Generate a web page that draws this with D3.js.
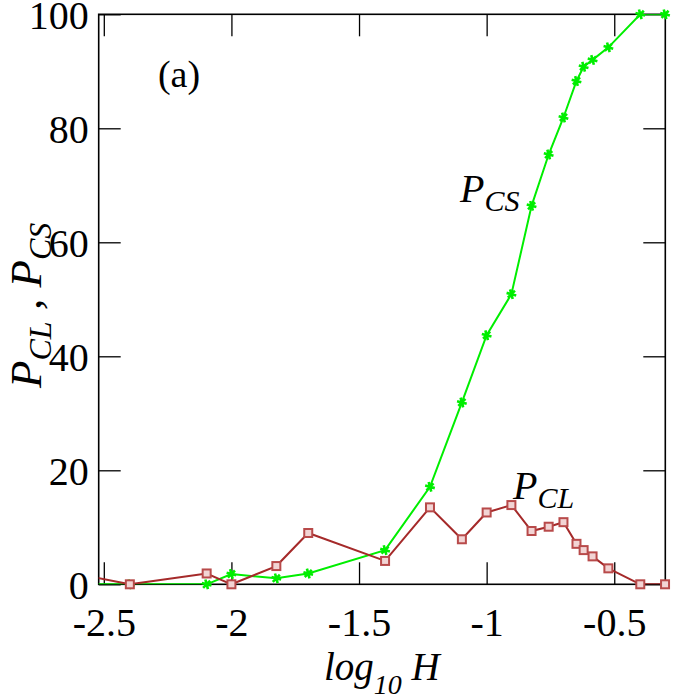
<!DOCTYPE html>
<html>
<head>
<meta charset="utf-8">
<script src="https://cdn.jsdelivr.net/npm/d3@7"></script>
<style>
  html, body { margin: 0; padding: 0; background: #fff; }
  svg { display: block; }
  svg text { font-family: "Liberation Serif", "Times New Roman", Times, "DejaVu Serif", "Noto Serif", serif; fill: #000; }
</style>
</head>
<body>
<svg id="chart" width="700" height="700"></svg>
<script>
// ---- data ----
const logH = [-2.6, -2.398, -2.097, -2.0, -1.824, -1.699, -1.398, -1.222, -1.097, -1.0,
              -0.903, -0.824, -0.757, -0.699, -0.648, -0.62, -0.585, -0.523, -0.398, -0.301];
const pCL  = [1.8, 0, 1.9, 0, 3.2, 9.0, 4.1, 13.5, 7.9, 12.6,
              13.9, 9.35, 10.1, 10.9, 7.1, 6.0, 4.9, 2.8, 0, 0];
const pCS  = [0, 0, 0, 1.8, 1.05, 1.9, 6.0, 17.1, 31.9, 43.7,
              50.9, 66.4, 75.4, 81.9, 88.3, 90.8, 92.0, 94.2, 100, 100];
const xTicks = [-2.5, -2, -1.5, -1, -0.5];
const xTickLabels = ["-2.5", "-2", "-1.5", "-1", "-0.5"];
const yTicks = [0, 20, 40, 60, 80, 100];
const yTickLabels = ["0", "20", "40", "60", "80", "100"];
const xDomain = [-2.52, -0.3];
const yDomain = [0, 100];

// ---- layout ----
const FONT = '"Liberation Serif", "Times New Roman", Times, "DejaVu Serif", "Noto Serif", serif';
const L = 98.7, R = 665.3, T = 14.3, B = 584.3;
const svg = d3.select("#chart");
const x = d3.scaleLinear().domain(xDomain).range([L, R]);
const y = d3.scaleLinear().domain(yDomain).range([B, T]);
const TICK = 22;

svg.append("defs").append("clipPath").attr("id", "plotclip")
  .append("rect").attr("x", L).attr("y", T).attr("width", R - L).attr("height", B - T);

// axes
const fmtX = (d, i) => xTickLabels[i];
const fmtY = (d, i) => yTickLabels[i];

const gx = svg.append("g").attr("transform", `translate(0,${B})`)
  .call(d3.axisBottom(x).tickValues(xTicks).tickFormat(fmtX).tickSizeInner(-TICK).tickSizeOuter(0).tickPadding(24));
const gxt = svg.append("g").attr("transform", `translate(0,${T})`)
  .call(d3.axisTop(x).tickValues(xTicks).tickFormat("").tickSizeInner(-TICK).tickSizeOuter(0));
const gy = svg.append("g").attr("transform", `translate(${L},0)`)
  .call(d3.axisLeft(y).tickValues(yTicks).tickFormat(fmtY).tickSizeInner(-TICK).tickSizeOuter(0).tickPadding(10));
const gyr = svg.append("g").attr("transform", `translate(${R},0)`)
  .call(d3.axisRight(y).tickValues(yTicks).tickFormat("").tickSizeInner(-TICK).tickSizeOuter(0));

[gx, gxt, gy, gyr].forEach(g => {
  g.attr("font-family", null).attr("font-size", null);
  g.select(".domain").remove();
  g.selectAll(".tick line").attr("stroke", "#000").attr("stroke-width", 1.3);
  g.selectAll("text").style("font-family", FONT).style("font-size", "40px").attr("fill", "#000");
});
gy.selectAll("text").attr("dy", "0.36em");
gx.selectAll("text").attr("dy", "0.7em");

// frame
svg.append("rect").attr("x", L).attr("y", T).attr("width", R - L).attr("height", B - T)
  .attr("fill", "none").attr("stroke", "#000").attr("stroke-width", 1.6);

// series
const cl = logH.map((v, i) => ({ x: v, y: pCL[i] }));
const cs = logH.map((v, i) => ({ x: v, y: pCS[i] }));
const line = d3.line().x(d => x(d.x)).y(d => y(d.y));
const inDomain = d => d.x >= xDomain[0] - 1e-9 && d.x <= xDomain[1] + 0.01;

const green = "#00ee00";
const red = "#a52a2a";

svg.append("path").datum(cs).attr("d", line).attr("fill", "none")
  .attr("stroke", green).attr("stroke-width", 2).attr("clip-path", "url(#plotclip)");
const star = d3.symbol(d3.symbolAsterisk, 70)();
svg.append("g").selectAll("path").data(cs.filter(inDomain)).join("path")
  .attr("transform", d => `translate(${x(d.x)},${y(d.y)}) rotate(45)`)
  .attr("d", star)
  .attr("fill", "none").attr("stroke", green).attr("stroke-width", 2.6);

svg.append("path").datum(cl).attr("d", line).attr("fill", "none")
  .attr("stroke", red).attr("stroke-width", 2).attr("clip-path", "url(#plotclip)");
svg.append("g").selectAll("rect").data(cl.filter(inDomain)).join("rect")
  .attr("x", d => x(d.x) - 4).attr("y", d => y(d.y) - 4).attr("width", 8).attr("height", 8)
  .attr("fill", "#f2d4d4").attr("stroke", "#b84a4a").attr("stroke-width", 2);

// annotations
function label(xp, yp, size, italic) {
  return svg.append("text").attr("x", xp).attr("y", yp)
    .style("font-family", FONT).style("font-size", size + "px")
    .style("font-style", italic ? "italic" : "normal");
}
label(179, 87, 38, false).attr("text-anchor", "middle").text("(a)");

const pcs = label(460, 202, 40, true);
pcs.append("tspan").text("P");
pcs.append("tspan").style("font-size", "30px").attr("dy", 9).text("CS");

const pcl = label(513, 499, 40, true);
pcl.append("tspan").text("P");
pcl.append("tspan").style("font-size", "30px").attr("dy", 9).text("CL");

// x axis title
const xt = label(324, 680, 39, true);
xt.append("tspan").text("log");
xt.append("tspan").style("font-size", "28px").attr("dy", 14).text("10");
xt.append("tspan").attr("dy", -14).text("\u00a0H");

// y axis title
const yt = svg.append("text").attr("transform", "translate(41,388) rotate(-90)")
  .style("font-family", FONT).style("font-size", "45px").style("font-style", "italic");
yt.append("tspan").text("P");
yt.append("tspan").style("font-size", "32px").attr("dy", 10).text("CL");
yt.append("tspan").attr("dy", -10).text(" , P");
yt.append("tspan").style("font-size", "32px").attr("dy", 10).text("CS");
</script>
</body>
</html>
